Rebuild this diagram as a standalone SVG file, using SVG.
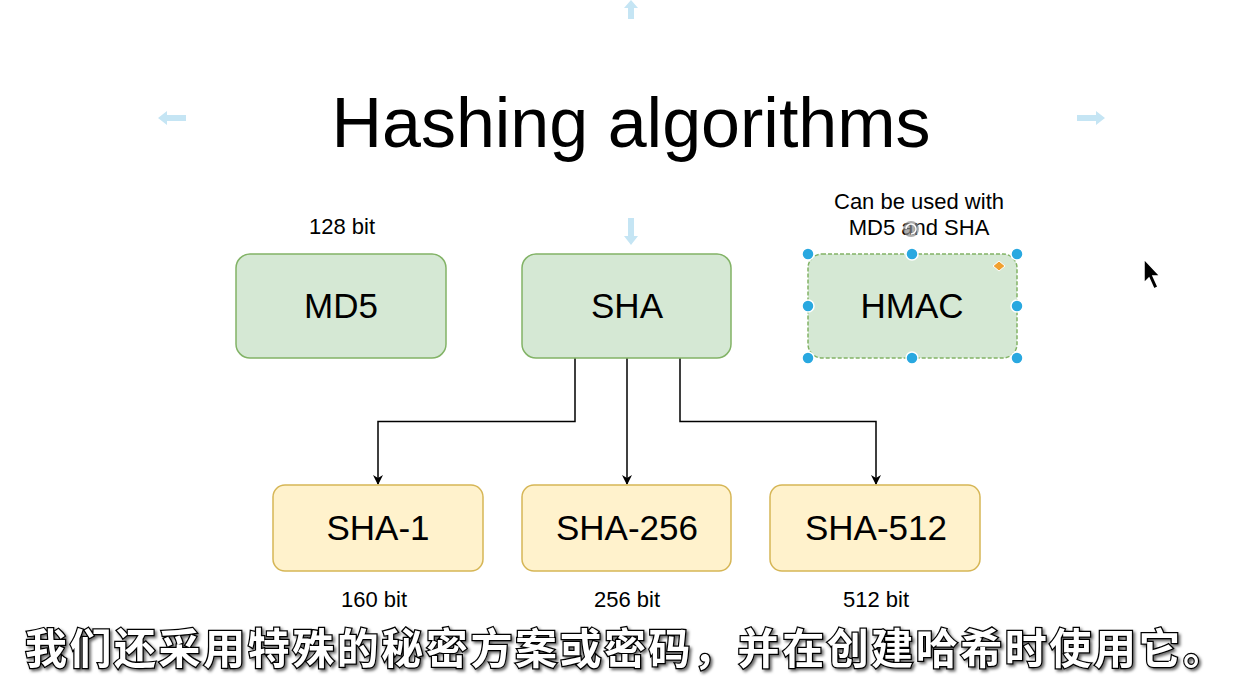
<svg xmlns="http://www.w3.org/2000/svg" width="1246" height="693" viewBox="0 0 1246 693">
<style>
.t{font-family:"Liberation Sans",Arial,sans-serif;fill:#000;text-anchor:middle}
.g{fill:#d5e8d4;stroke:#82b366;stroke-width:1.5}
.y{fill:#fff2cc;stroke:#d6b656;stroke-width:1.5}
.lbl{font-size:35px}
.sm{font-size:22px}
.h{fill:#29a8e0;stroke:#fff;stroke-width:1.5}
.ha{fill:#c5e5f4}
.e{fill:none;stroke:#000;stroke-width:1.5}
.sub{font-family:"Noto Sans CJK SC",sans-serif;font-size:42px;font-weight:bold;fill:#fff;stroke:#000;stroke-width:2.5;paint-order:stroke}
</style>
<defs>
<marker id="ar" viewBox="0 0 10 10" refX="9" refY="5" markerWidth="10" markerHeight="10" markerUnits="userSpaceOnUse" orient="auto">
<path d="M0,0 L10,5 L0,10 L3,5 Z" fill="#000"/>
</marker>
<filter id="sh" x="-5%" y="-20%" width="110%" height="140%">
<feDropShadow dx="2" dy="2" stdDeviation="1.5" flood-color="#000" flood-opacity="0.6"/>
</filter>
</defs>
<rect width="1246" height="693" fill="#fff"/>
<g id="ui-arrows">
<path class="ha" d="M631,0 L638,8 L634,8 L634,19 L628,19 L628,8 L624,8 Z"/>
<path class="ha" d="M158,118 L167,111 L167,115 L186,115 L186,121 L167,121 L167,125 Z"/>
<path class="ha" d="M1105,118 L1096,111 L1096,115 L1077,115 L1077,121 L1096,121 L1096,125 Z"/>
<path class="ha" d="M631,245 L624,236 L628,236 L628,218 L634,218 L634,236 L638,236 Z"/>
</g>
<g id="title">
<text class="t" x="631" y="147" font-size="70">Hashing algorithms</text>
</g>
<g id="edges">
<path class="e" d="M575,358 V421.5 H378 V484" marker-end="url(#ar)"/>
<path class="e" d="M627,358 V484" marker-end="url(#ar)"/>
<path class="e" d="M680,358 V421.5 H876 V484" marker-end="url(#ar)"/>
</g>
<g id="md5">
<text class="t sm" x="342" y="234">128 bit</text>
<rect class="g" x="236" y="254" width="210" height="104" rx="14"/>
<text class="t lbl" x="341" y="318">MD5</text>
</g>
<g id="sha">
<rect class="g" x="522" y="254" width="209" height="104" rx="14"/>
<text class="t lbl" x="627" y="318">SHA</text>
</g>
<g id="hmac">
<text class="t sm" x="919" y="209">Can be used with</text>
<text class="t sm" x="919" y="235">MD5 and SHA</text>
<rect class="g" x="808" y="254" width="209" height="104" rx="14" stroke-dasharray="4 2"/>
<text class="t lbl" x="912" y="318">HMAC</text>
<circle class="h" cx="808" cy="254" r="6"/>
<circle class="h" cx="912" cy="254" r="6"/>
<circle class="h" cx="1017" cy="254" r="6"/>
<circle class="h" cx="808" cy="306" r="6"/>
<circle class="h" cx="1017" cy="306" r="6"/>
<circle class="h" cx="808" cy="358" r="6"/>
<circle class="h" cx="912" cy="358" r="6"/>
<circle class="h" cx="1017" cy="358" r="6"/>
<path d="M999,261 L1005,266 L999,271 L993,266 Z" fill="#f0a030" stroke="#fff" stroke-width="1"/>
<circle cx="911" cy="229" r="8" fill="#8a8a8a" fill-opacity="0.7"/>
<path d="M906,229 A5,5 0 1 1 911,234" fill="none" stroke="#fff" stroke-width="1.5"/>
</g>
<g id="sha1">
<rect class="y" x="273" y="485" width="210" height="86" rx="12"/>
<text class="t lbl" x="378" y="540">SHA-1</text>
<text class="t sm" x="374" y="607">160 bit</text>
</g>
<g id="sha256">
<rect class="y" x="522" y="485" width="209" height="86" rx="12"/>
<text class="t lbl" x="627" y="540">SHA-256</text>
<text class="t sm" x="627" y="607">256 bit</text>
</g>
<g id="sha512">
<rect class="y" x="770" y="485" width="210" height="86" rx="12"/>
<text class="t lbl" x="876" y="540">SHA-512</text>
<text class="t sm" x="876" y="607">512 bit</text>
</g>
<g id="cursor">
<path d="M1144,259 L1144,283 L1149,278 L1154,289 L1158,287 L1153,276 L1160,276 Z" fill="#000" stroke="#fff" stroke-width="1.5"/>
</g>
<g id="subtitle" filter="url(#sh)">
<text class="sub" x="25" y="664" textLength="1200" lengthAdjust="spacing">我们还采用特殊的秘密方案或密码，并在创建哈希时使用它。</text>
</g>
</svg>
